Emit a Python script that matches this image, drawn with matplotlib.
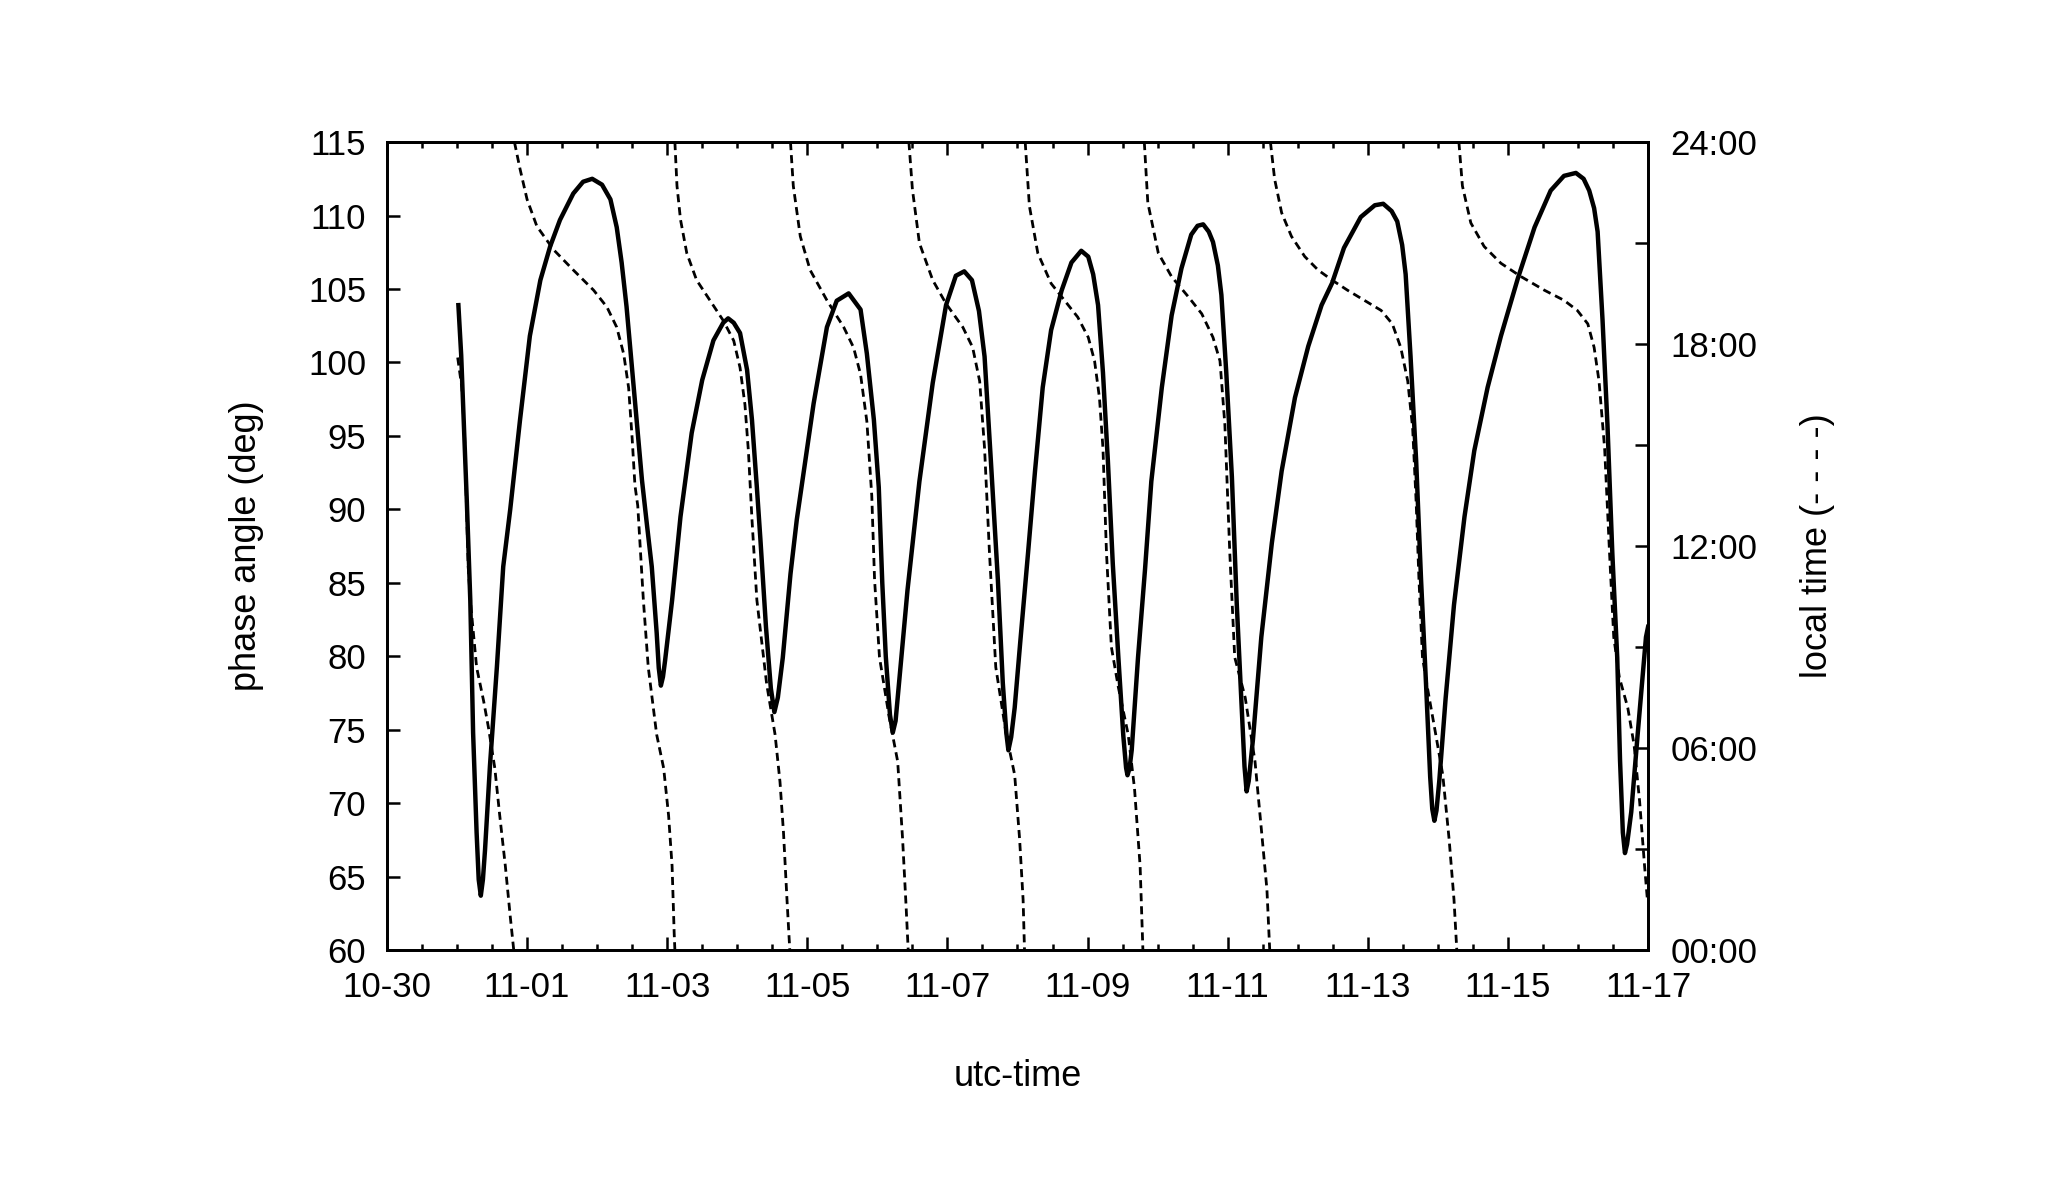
import numpy as np
import matplotlib.pyplot as plt
from matplotlib.ticker import MultipleLocator

plt.rcParams['font.family'] = ['Liberation Sans', 'DejaVu Sans']

# time axis: days since 10-30 00:00 utc
date_labels = ["10-30", "11-01", "11-03", "11-05", "11-07",
               "11-09", "11-11", "11-13", "11-15", "11-17"]
lt_labels = ["00:00", "06:00", "12:00", "18:00", "24:00"]

# phase angle (solid)
phase_day = [1.02, 1.06, 1.10, 1.14, 1.19, 1.23, 1.28, 1.31, 1.34, 1.37, 1.40, 1.47, 1.57, 1.66,
             1.76, 1.90, 2.04, 2.19, 2.33, 2.47, 2.66, 2.80, 2.93, 3.07, 3.19, 3.28, 3.35, 3.42,
             3.50, 3.57, 3.64, 3.71, 3.78, 3.85, 3.88, 3.91, 3.94, 3.97, 4.07, 4.19, 4.35, 4.50,
             4.66, 4.80, 4.87, 4.95, 5.04, 5.14, 5.21, 5.28, 5.33, 5.41, 5.48, 5.53, 5.58, 5.65,
             5.76, 5.85, 6.09, 6.28, 6.42, 6.59, 6.76, 6.85, 6.95, 7.02, 7.07, 7.12, 7.18, 7.22,
             7.26, 7.31, 7.43, 7.60, 7.79, 7.98, 8.12, 8.24, 8.35, 8.45, 8.53, 8.62, 8.72, 8.79,
             8.84, 8.87, 8.91, 8.96, 9.04, 9.15, 9.25, 9.36, 9.48, 9.63, 9.77, 9.91, 10.01, 10.08,
             10.15, 10.22, 10.29, 10.36, 10.44, 10.51, 10.55, 10.57, 10.60, 10.63, 10.72, 10.82,
             10.91, 11.06, 11.20, 11.34, 11.48, 11.57, 11.65, 11.73, 11.79, 11.86, 11.91, 11.98,
             12.06, 12.13, 12.20, 12.24, 12.27, 12.30, 12.36, 12.48, 12.63, 12.77, 12.96, 13.15,
             13.34, 13.49, 13.66, 13.90, 14.10, 14.22, 14.34, 14.42, 14.49, 14.54, 14.61, 14.69,
             14.76, 14.83, 14.89, 14.92, 14.95, 14.98, 15.02, 15.11, 15.23, 15.38, 15.52, 15.71,
             15.90, 16.14, 16.38, 16.61, 16.80, 16.97, 17.08, 17.16, 17.23, 17.28, 17.35, 17.42,
             17.49, 17.56, 17.60, 17.64, 17.67, 17.70, 17.76, 17.85, 17.97, 18.00]
phase_deg = [103.9, 100.5, 95.5, 90.6, 83.8, 74.8, 68.0, 64.8, 63.7, 64.8, 66.8, 72.5, 79.3, 86.1,
             90.0, 96.1, 101.8, 105.6, 107.9, 109.7, 111.5, 112.3, 112.5, 112.1, 111.1, 109.2, 106.8, 103.8,
             99.5, 95.8, 92.0, 89.0, 86.1, 81.6, 79.2, 78.0, 78.6, 79.7, 83.8, 89.5, 95.2, 98.8,
             101.5, 102.7, 103.0, 102.7, 102.0, 99.5, 96.1, 91.5, 88.0, 82.0, 77.8, 76.2, 77.2, 79.9,
             85.6, 89.3, 97.2, 102.4, 104.2, 104.7, 103.6, 100.6, 96.1, 91.5, 85.0, 80.0, 76.0, 74.8,
             75.6, 78.2, 84.5, 91.9, 98.6, 103.9, 105.9, 106.2, 105.6, 103.5, 100.4, 93.3, 85.2, 78.2,
             74.8, 73.6, 74.5, 76.5, 81.0, 87.0, 92.6, 98.3, 102.2, 104.9, 106.8, 107.6, 107.2, 106.0,
             103.9, 99.3, 93.3, 86.3, 79.9, 74.6, 72.4, 71.9, 72.4, 73.6, 79.9, 85.9,
             91.9, 98.3, 103.2, 106.4, 108.7, 109.3, 109.4, 108.9, 108.2, 106.6, 104.6, 99.3,
             92.2, 83.5, 76.4, 72.5, 70.8, 71.5, 74.3, 81.3, 87.7, 92.6, 97.6, 101.1,
             103.9, 105.4, 107.8, 109.9, 110.7, 110.8, 110.3, 109.6, 108.0, 106.0, 100.4, 93.3,
             85.2, 78.2, 71.8, 69.6, 68.8, 69.5, 71.5, 77.1, 83.5, 89.5, 94.0, 98.3,
             101.8, 105.7, 109.2, 111.7, 112.7, 112.9, 112.5, 111.7, 110.5, 108.9, 102.9, 95.8,
             87.0, 79.9, 72.9, 68.0, 66.6, 67.2, 69.4, 74.6, 81.3, 82.0]

# local time in hours (dashed), wraps from 00:00 back to 24:00
lt_day = [1.01, 1.07, 1.11, 1.13, 1.16, 1.19, 1.28, 1.38, 1.45, 1.54, 1.61, 1.69, 1.76, 1.81,
          1.82, 1.90, 2.00, 2.14, 2.38, 2.66, 2.95, 3.14, 3.28, 3.38, 3.45, 3.50, 3.54, 3.58,
          3.66, 3.73, 3.85, 3.95, 4.02, 4.07, 4.10, 4.11,
          4.11, 4.14, 4.19, 4.28, 4.42, 4.61, 4.80, 4.95, 5.04, 5.11, 5.16, 5.21, 5.28, 5.42,
          5.54, 5.61, 5.66, 5.71, 5.75,
          5.76, 5.80, 5.90, 6.04, 6.28, 6.52, 6.66, 6.76, 6.85, 6.92, 6.96, 7.03, 7.17, 7.29,
          7.36, 7.41, 7.44,
          7.45, 7.50, 7.60, 7.79, 7.98, 8.22, 8.36, 8.46, 8.53, 8.60, 8.69, 8.84, 8.96, 9.03,
          9.08, 9.10,
          9.11, 9.17, 9.29, 9.48, 9.67, 9.86, 10.01, 10.10, 10.17, 10.22, 10.27, 10.34, 10.44,
          10.58, 10.67, 10.75, 10.79,
          10.81, 10.86, 11.01, 11.20, 11.44, 11.63, 11.79, 11.89, 11.96, 12.03, 12.10, 12.25,
          12.39, 12.48, 12.56, 12.60,
          12.61, 12.67, 12.77, 12.91, 13.10, 13.29, 13.49, 13.71, 13.95, 14.19, 14.35, 14.47,
          14.57, 14.64, 14.69, 14.73, 14.78, 14.85, 14.97, 15.07, 15.16, 15.23, 15.27,
          15.30, 15.35, 15.47, 15.66, 15.90, 16.19, 16.52, 16.80, 16.99, 17.14, 17.23, 17.30,
          17.38, 17.45, 17.51, 17.59, 17.71, 17.80, 17.88, 17.95, 17.99]
lt_hour = [17.6, 16.7, 15.2, 13.6, 11.4, 10.4, 8.4, 7.4, 6.6, 5.4, 4.0, 2.5, 1.0, 0.0,
           24.0, 23.2, 22.3, 21.5, 20.8, 20.2, 19.6, 19.1, 18.5, 17.7, 16.7, 15.2, 13.8, 13.2,
           10.4, 8.4, 6.4, 5.4, 4.0, 2.5, 0.5, 0.0,
           24.0, 22.7, 21.7, 20.7, 19.9, 19.3, 18.7, 18.1, 17.3, 16.2, 14.8, 12.8, 10.4, 7.9,
           6.4, 5.0, 3.5, 1.5, 0.0,
           24.0, 22.7, 21.2, 20.2, 19.3, 18.5, 17.9, 17.1, 15.7, 13.5, 11.0, 8.7, 6.9, 5.6,
           3.3, 1.3, 0.0,
           24.0, 22.6, 21.0, 19.9, 19.2, 18.5, 17.9, 16.9, 14.9, 11.8, 8.4, 6.4, 5.2, 3.3,
           1.5, 0.0,
           24.0, 22.1, 20.7, 19.8, 19.3, 18.8, 18.2, 17.5, 16.4, 14.9, 11.8, 9.0, 7.8,
           6.4, 4.8, 2.5, 0.0,
           24.0, 22.2, 20.7, 20.0, 19.4, 18.9, 18.2, 17.5, 15.6, 11.8, 8.7, 7.5,
           5.6, 3.6, 1.8, 0.0,
           24.0, 22.9, 21.9, 21.2, 20.6, 20.2, 19.9, 19.6, 19.3, 19.0, 18.6, 17.9,
           16.9, 15.5, 13.3, 11.0, 8.7, 7.8, 6.4, 5.2, 3.3, 1.5, 0.0,
           24.0, 22.7, 21.6, 20.9, 20.4, 20.0, 19.6, 19.3, 19.0, 18.6, 17.9, 16.9,
           14.9, 11.8, 9.3, 8.1, 7.2, 6.1, 4.4, 2.5, 1.5]

fs = 25

fig = plt.figure(figsize=(20.57, 12), dpi=100)
ax = fig.add_axes([0.1881, 0.2083, 0.6131, 0.6733])
ax2 = ax.twinx()

ax.plot(phase_day, phase_deg, color='black', lw=3.2, solid_joinstyle='round', zorder=3)

# break the local time curve where it wraps around midnight
d = np.array(lt_day)
h = np.array(lt_hour)
breaks = np.where(np.diff(h) > 12)[0] + 1
for sd, sh in zip(np.split(d, breaks), np.split(h, breaks)):
    ax2.plot(sd, sh, color='black', lw=2.0, linestyle=(0, (2.9, 1.8)))

ax.set_xlim(0, 18)
ax.set_ylim(60, 115)
ax2.set_ylim(0, 24)

ax.set_xticks(np.arange(0, 19, 2))
ax.set_xticklabels(date_labels)
ax.xaxis.set_minor_locator(MultipleLocator(0.5))
ax.set_yticks(np.arange(60, 116, 5))

ax.tick_params(axis='x', which='both', direction='in', top=True, bottom=True)
ax.tick_params(axis='x', which='major', length=9.4, width=1.8, pad=15, labelsize=fs)
ax.tick_params(axis='x', which='minor', length=4.5, width=1.8)
ax.tick_params(axis='y', direction='in', left=True, right=False,
               length=9.4, width=1.8, pad=15, labelsize=fs)

ax2.set_yticks(np.arange(0, 25, 6))
ax2.set_yticklabels(lt_labels)
ax2.yaxis.set_minor_locator(MultipleLocator(3))
ax2.tick_params(axis='y', which='both', direction='in', length=9.4, width=1.8,
                pad=16, labelsize=fs)

for a in (ax, ax2):
    for s in a.spines.values():
        s.set_linewidth(2.0)

ax.set_xlabel('utc-time', fontsize=fs + 1, va='center')
ax.xaxis.set_label_coords(0.5, -0.156)
ax.set_ylabel('phase angle (deg)', fontsize=fs + 1, va='center')
ax.yaxis.set_label_coords(-0.111, 0.5)
ax2.set_ylabel('local time (- - - -)', fontsize=fs + 1, va='center', rotation=90)
ax2.yaxis.set_label_coords(1.134, 0.5)

fig.savefig('out.png', dpi=100)
